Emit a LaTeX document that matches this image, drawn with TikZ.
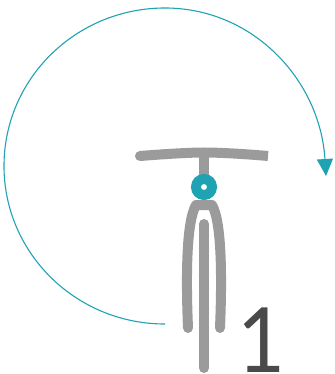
\documentclass[tikz,border=0pt]{standalone}
\usepackage{fontspec}
\setmainfont{Lato}
\usetikzlibrary{arrows.meta}
\definecolor{teal}{HTML}{1FA2B2}
\definecolor{bikegray}{HTML}{9B9B9B}
\definecolor{numgray}{HTML}{4A4A4A}
\tikzset{
  bikepart/.style={draw=bikegray,line width=10pt,line cap=round,line join=round},
  turnline/.style={draw=teal,line width=1.1pt,-{Triangle[length=17pt,width=16pt,fill=teal]}}
}
\begin{document}
\begin{tikzpicture}[x=1pt,y=-1pt]
\useasboundingbox (0,0) rectangle (334,374);
% turning arc
\draw[turnline] (165,324) arc[start angle=90,end angle=270,x radius=161,y radius=158]
  .. controls (253,8) and (320,80) .. (326,176);
% wheel and fork
\draw[bikepart] (204,224) -- (204,368);
\draw[bikepart] (188,328) .. controls (186,280) and (186,222) .. (196,205) -- (212,205)
  .. controls (222,222) and (222,280) .. (220,328);
% handlebar
\draw[draw=bikegray,line width=10pt] (204,152) -- (204,176);
\draw[bikepart] (140,156) .. controls (165,154) and (190,152.5) .. (204,152.5);
\draw[draw=bikegray,line width=10pt] (204,152.5) .. controls (220,152.5) and (245,154) .. (268,156);
% head tube
\draw[draw=teal,line width=10pt] (204,187) circle[radius=8];
% number
\node[text=numgray,font=\fontsize{90}{90}\selectfont,inner sep=0pt,anchor=base,xscale=0.92] (num) at (262,372) {1};
\end{tikzpicture}
\end{document}
